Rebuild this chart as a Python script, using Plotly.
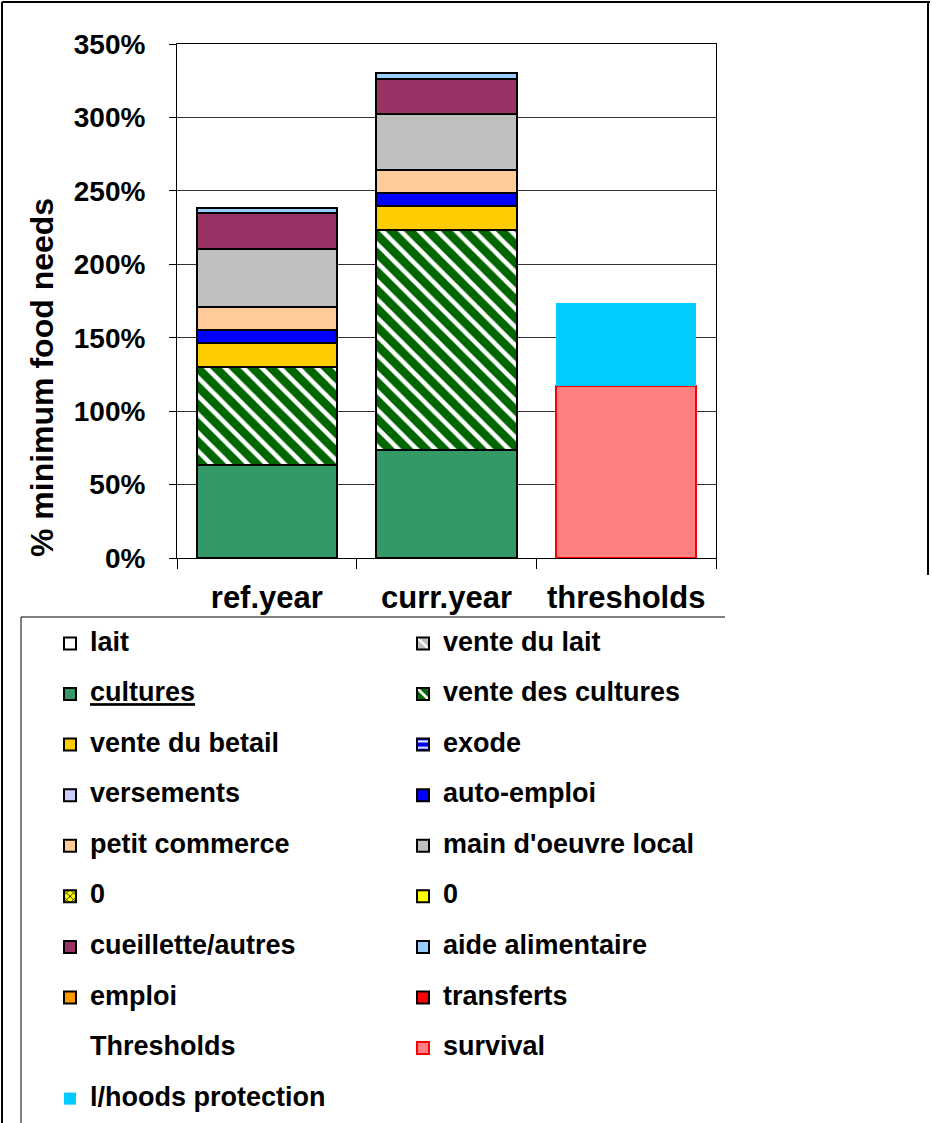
import plotly.graph_objects as go

categories = ["ref.year", "curr.year", "thresholds"]

# series (in % of minimum food needs); None = not applicable for the category
lait = [0, 0, None]
vente_du_lait = [0, 0, None]
cultures = [63.3, 73.5, None]
vente_des_cultures = [67.0, 149.8, None]
vente_du_betail = [16.0, 16.6, None]
exode = [0, 0, None]
versements = [0, 0, None]
auto_emploi = [9.2, 8.4, None]
petit_commerce = [15.3, 15.9, None]
main_oeuvre_local = [39.5, 37.9, None]
zero_a = [0, 0, None]
zero_b = [0, 0, None]
cueillette_autres = [24.5, 24.1, None]
aide_alimentaire = [3.4, 3.8, None]
emploi = [0, 0, None]
transferts = [0, 0, None]
thresholds_label = [None, None, None]
survival = [None, None, 117.1]
lhoods_protection = [None, None, 56.3]

y_ticks = [0, 50, 100, 150, 200, 250, 300, 350]
y_tick_labels = ["0%", "50%", "100%", "150%", "200%", "250%", "300%", "350%"]

W, H = 932, 1123
ML, MR, MT, MB = 177, 216, 44, 565
PW, PH = W - ML - MR, H - MT - MB


def px_x(px):
    return (px - ML) / PW


def px_y(py):
    return (H - MB - py) / PH


FONT = "Liberation Sans, Arial, sans-serif"
LEG_TXT = 27


def lname(label):
    return f'<span style="font-size:{LEG_TXT}px">{label}</span><br>\u00a0'


BLK = dict(color="black", width=2)

series = [
    ("lait", lait, dict(color="white", line=BLK)),
    ("vente du lait", vente_du_lait, dict(color="#C0C0C0", line=BLK,
                                          pattern=dict(shape="\\", fgcolor="white", bgcolor="#C0C0C0",
                                                       fillmode="replace", size=10, solidity=0.3))),
    ("<u>cultures</u>", cultures, dict(color="#339966", line=BLK)),
    ("vente des cultures", vente_des_cultures,
     dict(color="#006600", line=BLK,
          pattern=dict(shape="\\", fgcolor="white", bgcolor="#006600",
                       fillmode="replace", size=13, solidity=0.35))),
    ("vente du betail", vente_du_betail, dict(color="#FFCC00", line=BLK)),
    ("exode", exode, dict(color="#0000FF", line=BLK,
                          pattern=dict(shape="-", fgcolor="white", bgcolor="#0000FF",
                                       fillmode="replace", size=8, solidity=0.3))),
    ("versements", versements, dict(color="#CCCCFF", line=BLK)),
    ("auto-emploi", auto_emploi, dict(color="#0000FF", line=BLK)),
    ("petit commerce", petit_commerce, dict(color="#FFCC99", line=BLK)),
    ("main d'oeuvre local", main_oeuvre_local, dict(color="#C0C0C0", line=BLK)),
    ("0", zero_a, dict(color="#FFFF00", line=BLK,
                       pattern=dict(shape="x", fgcolor="black", bgcolor="#FFFF00",
                                    fillmode="replace", size=6, solidity=0.3))),
    ("0", zero_b, dict(color="#FFFF00", line=BLK)),
    ("cueillette/autres", cueillette_autres, dict(color="#993366", line=BLK)),
    ("aide alimentaire", aide_alimentaire, dict(color="#99CCFF", line=BLK)),
    ("emploi", emploi, dict(color="#FF9900", line=BLK)),
    ("transferts", transferts, dict(color="#FF0000", line=BLK)),
    ("Thresholds", thresholds_label, dict(color="rgba(0,0,0,0)", line=dict(width=0))),
    ("survival", survival, dict(color="#FF8080", line=dict(color="#FF0000", width=2))),
    ("l/hoods protection", lhoods_protection, dict(color="#00CCFF", line=dict(color="#00CCFF", width=0))),
]

fig = go.Figure()
for name, vals, marker in series:
    fig.add_trace(go.Bar(x=categories, y=vals, name=lname(name), marker=marker,
                         showlegend=True))

fig.update_layout(
    width=W, height=H,
    margin=dict(l=ML, r=MR, t=MT, b=MB, autoexpand=False),
    paper_bgcolor="white", plot_bgcolor="white",
    barmode="stack", bargap=0.22,
    font=dict(family=FONT, color="black", weight="bold"),
    showlegend=True,
    legend=dict(
        orientation="h", traceorder="normal",
        x=px_x(50), xanchor="left", y=px_y(625), yanchor="top",
        font=dict(family=FONT, size=18.3, color="black", weight="bold"),
        entrywidth=308, entrywidthmode="pixels",
        valign="top", bgcolor="rgba(0,0,0,0)", borderwidth=0,
        maxheight=800,
    ),
    xaxis=dict(
        showline=True, linecolor="black", linewidth=1, mirror=True,
        ticks="outside", ticklen=10, tickcolor="black", tickson="boundaries",
        tickfont=dict(family=FONT, size=31, color="black", weight="bold"),
        ticklabelstandoff=12, showgrid=False,
    ),
    yaxis=dict(
        range=[0, 350], tickvals=y_ticks, ticktext=y_tick_labels,
        showline=True, linecolor="black", linewidth=1, mirror=True,
        ticks="outside", ticklen=7, tickcolor="black",
        tickfont=dict(family=FONT, size=28, color="black", weight="bold"),
        ticklabelstandoff=18,
        showgrid=True, gridcolor="#333333", gridwidth=1, zeroline=False,
    ),
    annotations=[dict(
        text="% minimum food needs", textangle=-90,
        xref="paper", yref="paper", x=px_x(42), y=px_y(378),
        xanchor="center", yanchor="middle", showarrow=False,
        font=dict(family=FONT, size=32, color="black", weight="bold"),
    )],
    shapes=[
        # outer frame
        dict(type="line", xref="paper", yref="paper", x0=px_x(2), x1=px_x(930), y0=px_y(2), y1=px_y(2),
             line=dict(color="black", width=2)),
        dict(type="line", xref="paper", yref="paper", x0=px_x(2), x1=px_x(2), y0=px_y(2), y1=px_y(1123),
             line=dict(color="black", width=2)),
        dict(type="line", xref="paper", yref="paper", x0=px_x(928), x1=px_x(928), y0=px_y(2), y1=px_y(575),
             line=dict(color="black", width=2)),
        # legend box edges
        dict(type="line", xref="paper", yref="paper", x0=px_x(21), x1=px_x(725), y0=px_y(617), y1=px_y(617),
             line=dict(color="black", width=1)),
        dict(type="line", xref="paper", yref="paper", x0=px_x(21), x1=px_x(21), y0=px_y(617), y1=px_y(1123),
             line=dict(color="black", width=1)),
    ],
)

fig.write_html("out.html", config={"displayModeBar": False},
               post_script="document.body.style.margin='0';")
